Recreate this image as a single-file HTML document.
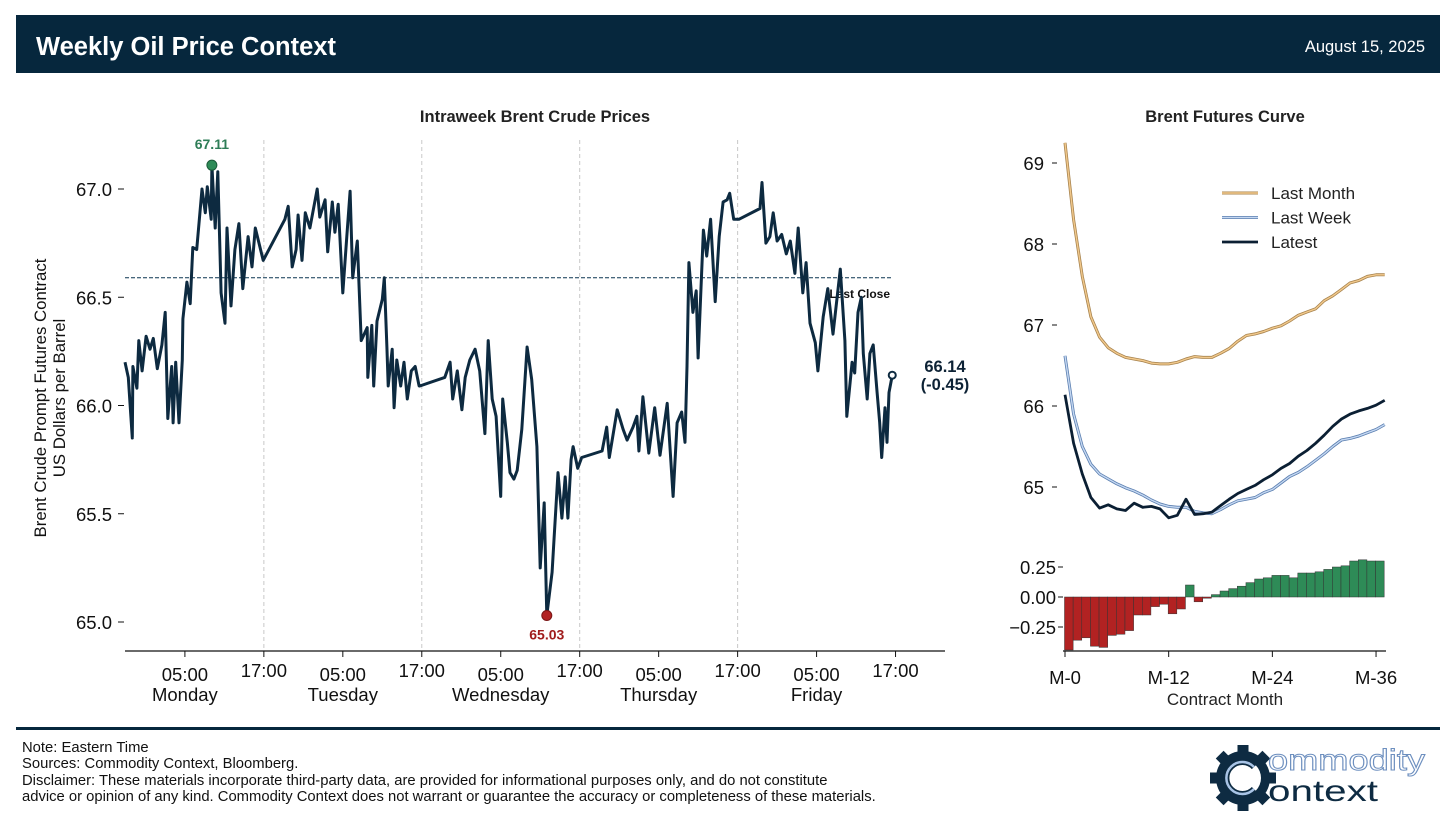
<!DOCTYPE html>
<html><head><meta charset="utf-8"><style>
html,body{margin:0;padding:0;background:#fff;}
body{width:1456px;height:831px;overflow:hidden;font-family:"Liberation Sans",Arial,sans-serif;}
svg text{font-family:"Liberation Sans",Arial,sans-serif;}
</style></head><body>
<svg id="root" width="1456" height="831" viewBox="0 0 1456 831" xmlns="http://www.w3.org/2000/svg">
<rect x="16" y="15" width="1424" height="58" fill="#06273d"/>
<text x="36" y="55" font-size="25.5" font-weight="bold" fill="#fff">Weekly Oil Price Context</text>
<text x="1425" y="52" font-size="16.5" fill="#fff" text-anchor="end">August 15, 2025</text>
<text x="535" y="122" font-size="16.5" font-weight="bold" fill="#222" text-anchor="middle">Intraweek Brent Crude Prices</text>
<text x="1225" y="122" font-size="16.5" font-weight="bold" fill="#222" text-anchor="middle">Brent Futures Curve</text>
<g transform="translate(53,398) rotate(-90)">
<text x="0" y="-7" font-size="16.8" fill="#111" text-anchor="middle">Brent Crude Prompt Futures Contract</text>
<text x="0" y="12" font-size="16.8" fill="#111" text-anchor="middle">US Dollars per Barrel</text>
</g>
<g id="left"></g>
<g id="right"></g>
<rect x="16" y="727" width="1424" height="3" fill="#06273d"/>
<g font-size="14.8" fill="#111">
<text x="22" y="752">Note: Eastern Time</text>
<text x="22" y="768">Sources: Commodity Context, Bloomberg.</text>
<text x="22" y="785">Disclaimer: These materials incorporate third-party data, are provided for informational purposes only, and do not constitute</text>
<text x="22" y="801">advice or opinion of any kind. Commodity Context does not warrant or guarantee the accuracy or completeness of these materials.</text>
</g>
<g>
<g transform="translate(1243,778)">
<g fill="#0e2b42">
<rect x="-5.5" y="-33" width="11" height="66"/><rect x="-5.5" y="-33" width="11" height="66" transform="rotate(45)"/>
<rect x="-5.5" y="-33" width="11" height="66" transform="rotate(90)"/><rect x="-5.5" y="-33" width="11" height="66" transform="rotate(135)"/>
<circle r="27"/></g>
<circle r="18" fill="#fff"/>
<path d="M11,-11 A16,16 0 1 0 11,11" fill="none" stroke="#0e2b42" stroke-width="6"/>
<path d="M11,-11 A16,16 0 1 0 11,11" fill="none" stroke="#a9c4e6" stroke-width="2.5"/>
</g>
<text x="1268" y="770" font-size="30" textLength="157" lengthAdjust="spacingAndGlyphs" fill="#fff" stroke="#6d8fbf" stroke-width="1">ommodity</text>
<text x="1268" y="801" font-size="30" textLength="110" lengthAdjust="spacingAndGlyphs" fill="#0e2b42">ontext</text>
</g>
</svg>
<script>
// ---------- Intraweek data (hours since Monday 00:00 ET, price) ----------
const weekHours = [-4.1,-3.6,-3.0,-2.9,-2.3,-2.0,-1.5,-0.9,-0.3,0.2,0.8,1.5,2.0,2.4,3.0,3.2,3.6,4.1,4.6,4.7,5.3,5.8,6.2,6.8,7.6,8.1,8.4,9.0,9.1,9.6,10.0,10.5,11.1,11.4,12.0,12.6,13.2,13.8,14.6,15.2,15.7,16.9,
20.2,20.7,21.3,21.9,22.2,22.8,23.3,24.0,25.1,25.5,26.3,26.7,27.4,27.8,28.3,29.0,29.6,30.1,30.5,31.2,31.8,32.7,32.8,33.4,33.7,34.2,35.0,35.3,35.7,35.9,36.5,36.8,37.2,37.8,38.3,38.8,39.4,40.0,40.6,40.7,
44.5,45.3,45.7,46.4,47.1,47.6,48.3,49.1,49.8,50.6,51.1,51.7,52.3,53.0,53.3,54.0,54.4,55.0,55.5,56.2,57.0,57.7,58.5,59.0,59.6,60.0,60.8,61.1,61.7,62.3,62.8,63.2,63.7,64.0,64.7,65.3,
68.4,69.1,69.5,70.7,71.6,72.2,73.1,73.7,74.0,74.6,75.5,76.4,77.2,78.3,79.2,79.8,80.5,81.0,81.3,81.6,82.2,82.7,83.0,83.8,84.3,84.9,85.6,86.2,86.8,87.4,87.8,88.4,89.2,
92.4,92.7,93.3,93.9,94.4,95.0,95.7,96.4,97.0,97.7,98.2,98.9,99.4,100.0,100.8,101.2,102.0,102.7,103.5,104.6,105.3,105.6,106.4,106.8,107.3,107.8,108.1,108.7,109.1,109.6,110.2,110.6,110.9,111.4,111.7,112.0,112.5];
const weekPrices = [66.20,66.13,65.85,66.18,66.08,66.30,66.16,66.32,66.26,66.31,66.17,66.28,66.43,65.94,66.18,65.92,66.20,65.92,66.21,66.40,66.57,66.47,66.73,66.72,67.00,66.89,67.01,66.86,67.11,66.82,67.08,66.52,66.38,66.82,66.46,66.72,66.84,66.54,66.78,66.64,66.82,66.67,
66.86,66.92,66.64,66.72,66.88,66.67,66.89,66.82,67.00,66.87,66.95,66.71,66.94,66.80,66.93,66.52,66.78,66.99,66.59,66.76,66.30,66.36,66.13,66.37,66.09,66.39,66.49,66.59,66.27,66.09,66.26,65.99,66.21,66.09,66.20,66.03,66.16,66.18,66.09,66.09,
66.13,66.20,66.03,66.16,65.98,66.13,66.21,66.26,66.16,65.87,66.30,66.03,65.95,65.58,66.03,65.83,65.69,65.66,65.70,65.89,66.27,66.12,65.81,65.25,65.55,65.03,65.23,65.38,65.69,65.48,65.67,65.48,65.75,65.81,65.71,65.76,
65.79,65.90,65.76,65.98,65.89,65.84,65.90,65.95,65.79,66.04,65.78,65.99,65.77,66.01,65.58,65.92,65.97,65.83,66.18,66.66,66.43,66.53,66.22,66.81,66.69,66.86,66.48,66.78,66.94,66.95,66.98,66.86,66.86,
66.91,67.03,66.75,66.78,66.89,66.76,66.79,66.70,66.76,66.61,66.82,66.52,66.66,66.38,66.29,66.16,66.41,66.54,66.33,66.63,66.30,65.95,66.20,66.15,66.43,66.50,66.24,66.03,66.24,66.28,66.06,65.92,65.76,65.99,65.83,66.06,66.14];
const prevClose = [66.59];
const yTicksLeft = [65.0,65.5,66.0,66.5,67.0];
const xTickHours = [5,17,29,41,53,65,77,89,101,113];
const xTickLabels = ["05:00","17:00","05:00","17:00","05:00","17:00","05:00","17:00","05:00","17:00"];
const dayNames = ["Monday","Tuesday","Wednesday","Thursday","Friday"];
const sessionBreakHours = [17,41,65,89];

// ---------- Futures curve data ----------
const curveMonths = [0,1,2,3,4,5,6,7,8,9,10,11,12,13,14,15,16,17,18,19,20,21,22,23,24,25,26,27,28,29,30,31,32,33,34,35,36,37];
const lastMonth = [69.25,68.3,67.6,67.1,66.85,66.72,66.65,66.6,66.58,66.56,66.53,66.52,66.52,66.54,66.58,66.61,66.6,66.6,66.65,66.71,66.8,66.87,66.89,66.92,66.96,66.99,67.05,67.12,67.16,67.2,67.3,67.36,67.44,67.52,67.55,67.6,67.62,67.62];
const lastWeek = [66.62,65.9,65.5,65.28,65.16,65.1,65.04,64.99,64.95,64.9,64.84,64.79,64.76,64.75,64.75,64.7,64.68,64.67,64.72,64.78,64.83,64.85,64.87,64.93,64.97,65.05,65.13,65.18,65.25,65.33,65.41,65.5,65.58,65.6,65.63,65.67,65.71,65.77];
const latest = [66.14,65.54,65.16,64.87,64.74,64.78,64.73,64.71,64.8,64.75,64.76,64.73,64.62,64.65,64.85,64.66,64.67,64.69,64.77,64.85,64.92,64.97,65.02,65.09,65.15,65.23,65.29,65.38,65.45,65.54,65.64,65.75,65.84,65.9,65.94,65.97,66.01,66.07];
const weeklyChange = [-0.48,-0.36,-0.34,-0.41,-0.42,-0.32,-0.31,-0.28,-0.15,-0.15,-0.08,-0.06,-0.14,-0.1,0.1,-0.04,-0.01,0.02,0.05,0.07,0.09,0.12,0.15,0.16,0.18,0.18,0.16,0.2,0.2,0.21,0.23,0.25,0.26,0.3,0.31,0.3,0.3];
const curveYTicks = [65,66,67,68,69];
const barYTicks = [-0.25,0,0.25];
const barYLabels = ["\u22120.25","0.00","0.25"];
const monthTicks = [0,12,24,36];

const NS = "http://www.w3.org/2000/svg";
function mk(parent, tag, attrs, text){
  const e = document.createElementNS(NS, tag);
  for (const k in attrs) e.setAttribute(k, attrs[k]);
  if (text !== undefined) e.textContent = text;
  parent.appendChild(e);
  return e;
}

// ---------- Left chart ----------
const L = document.getElementById('left');


const lx = h => 152 + h * 6.58;
const ly = p => 189 + (67 - p) * 216.5;

sessionBreakHours.forEach(h => {
  const g = mk(L, 'line', {x1: lx(h), x2: lx(h), y1: 140, y2: 650, stroke: '#c8c8c8', 'stroke-width': 1, 'stroke-dasharray': '4,3'});
  
  
});
const ax = mk(L, 'line', {x1: 125, x2: 945, y1: 651, y2: 651, stroke: '#111', 'stroke-width': 1.2});


yTicksLeft.forEach(v => {
  const t = mk(L, 'line', {x1: 118, x2: 124, y1: ly(v), y2: ly(v), stroke: '#111', 'stroke-width': 1});
  
  
  const tl = mk(L, 'text', {x: 112, y: ly(v) + 7, 'font-size': 18.5, 'text-anchor': 'end', fill: '#111'}, v.toFixed(1));
  
  
});
xTickHours.forEach((h, i) => {
  const t = mk(L, 'line', {x1: lx(h), x2: lx(h), y1: 651, y2: 657, stroke: '#111', 'stroke-width': 1});
  
  
  const isFive = i % 2 === 0;
  const tl = mk(L, 'text', {x: lx(h), y: isFive ? 681 : 677, 'font-size': 18.5, 'text-anchor': 'middle', fill: '#111'}, xTickLabels[i]);
  
  
  if (isFive) {
    const d = mk(L, 'text', {x: lx(h), y: 701, 'font-size': 18.5, 'text-anchor': 'middle', fill: '#111'}, dayNames[i / 2]);
    
    
  }
});
const pc = mk(L, 'line', {x1: 125, x2: lx(weekHours[weekHours.length - 1]), y1: ly(prevClose[0]), y2: ly(prevClose[0]), stroke: '#0b3550', 'stroke-width': 1, 'stroke-dasharray': '4,2'});


const pcl = mk(L, 'text', {x: 890, y: ly(prevClose[0]) + 20, 'font-size': 12, 'font-weight': 'bold', 'text-anchor': 'end', fill: '#111'}, 'Last Close');


let d = '';
weekHours.forEach((h, i) => { d += (i ? 'L' : 'M') + lx(h).toFixed(1) + ',' + ly(weekPrices[i]).toFixed(1); });
const pl = mk(L, 'path', {d: d, fill: 'none', stroke: '#0d2a40', 'stroke-width': 3, 'stroke-linejoin': 'round'});


let iMax = 0, iMin = 0;
weekPrices.forEach((p, i) => { if (p > weekPrices[iMax]) iMax = i; if (p < weekPrices[iMin]) iMin = i; });
const mxc = mk(L, 'circle', {cx: lx(weekHours[iMax]), cy: ly(weekPrices[iMax]), r: 5, fill: '#2e8b57', stroke: '#1a5a38', 'stroke-width': 1});


const mxt = mk(L, 'text', {x: lx(weekHours[iMax]), y: ly(weekPrices[iMax]) - 16, 'font-size': 14, 'font-weight': 'bold', 'text-anchor': 'middle', fill: '#2e7d57'}, weekPrices[iMax].toFixed(2));


const mnc = mk(L, 'circle', {cx: lx(weekHours[iMin]), cy: ly(weekPrices[iMin]), r: 5, fill: '#b22222', stroke: '#7a1515', 'stroke-width': 1});


const mnt = mk(L, 'text', {x: lx(weekHours[iMin]), y: ly(weekPrices[iMin]) + 24, 'font-size': 14, 'font-weight': 'bold', 'text-anchor': 'middle', fill: '#a01c1c'}, weekPrices[iMin].toFixed(2));


const lastP = weekPrices[weekPrices.length - 1];
const lc = mk(L, 'circle', {cx: lx(weekHours[weekHours.length - 1]), cy: ly(lastP), r: 3.5, fill: '#fff', stroke: '#0d2a40', 'stroke-width': 2});


const lt1 = mk(L, 'text', {x: 945, y: ly(lastP) - 3, 'font-size': 16.5, 'font-weight': 'bold', 'text-anchor': 'middle', fill: '#0d2235'}, lastP.toFixed(2));


const lt2 = mk(L, 'text', {x: 945, y: ly(lastP) + 15, 'font-size': 16.5, 'font-weight': 'bold', 'text-anchor': 'middle', fill: '#0d2235'}, '(' + (lastP - prevClose[0]).toFixed(2) + ')');



// ---------- Right chart ----------
const R = document.getElementById('right');


const rx = m => 1065 + m * 8.64;
const ry = v => 163 + (69 - v) * 81;
const by = v => 597 - v * 120;
curveYTicks.forEach(v => {
  const t = mk(R, 'line', {x1: 1052, x2: 1057, y1: ry(v), y2: ry(v), stroke: '#111'});
  
  
  const tl = mk(R, 'text', {x: 1044, y: ry(v) + 7, 'font-size': 18.5, 'text-anchor': 'end', fill: '#111'}, String(v));
  
  
});
function series(arr, outer, inner, wo, wi, name){
  let p = '';
  arr.forEach((v, i) => { p += (i ? 'L' : 'M') + rx(curveMonths[i]).toFixed(1) + ',' + ry(v).toFixed(1); });
  const o = mk(R, 'path', {d: p, fill: 'none', stroke: outer, 'stroke-width': wo, 'stroke-linejoin': 'round'});
  
  
  if (inner) {
    const n = mk(R, 'path', {d: p, fill: 'none', stroke: inner, 'stroke-width': wi, 'stroke-linejoin': 'round'});
    
    
  }
}
series(lastMonth, '#a8844f', '#f2c98c', 3, 1.4, 'last-month-curve');
series(lastWeek, '#5b7fb0', '#c5d8f2', 3, 1.4, 'last-week-curve');
series(latest, '#0b1f33', null, 2.8, 0, 'latest-curve');
// legend
[['Last Month', '#a8844f', '#f2c98c'], ['Last Week', '#5b7fb0', '#c5d8f2'], ['Latest', '#0b1f33', null]].forEach((e, i) => {
  const y = 193 + i * 24.5;
  const g = mk(R, 'g', {});
  
  
  mk(g, 'line', {x1: 1222, x2: 1258, y1: y, y2: y, stroke: e[1], 'stroke-width': e[2] ? 3 : 2.8});
  if (e[2]) mk(g, 'line', {x1: 1222, x2: 1258, y1: y, y2: y, stroke: e[2], 'stroke-width': 1.4});
  mk(g, 'text', {x: 1271, y: y + 6, 'font-size': 17, fill: '#222'}, e[0]);
});
// bars
weeklyChange.forEach((v, i) => {
  const top = by(Math.max(v, 0)), bot = Math.min(by(Math.min(v, 0)), 650);
  const b = mk(R, 'rect', {x: rx(curveMonths[i]) - 0.5, y: top, width: 8.64, height: Math.max(bot - top, 0.5), fill: v >= 0 ? '#2e8b57' : '#b22222', stroke: '#333', 'stroke-width': 0.5});
  
  
});
barYTicks.forEach((v, i) => {
  const t = mk(R, 'line', {x1: 1058, x2: 1063, y1: by(v), y2: by(v), stroke: '#111'});
  
  
  const tl = mk(R, 'text', {x: 1056, y: by(v) + 7, 'font-size': 18.5, 'text-anchor': 'end', fill: '#111'}, barYLabels[i]);
  
  
});
const rax = mk(R, 'line', {x1: 1063, x2: 1386, y1: 651, y2: 651, stroke: '#111', 'stroke-width': 1.2});


monthTicks.forEach(m => {
  const t = mk(R, 'line', {x1: rx(m), x2: rx(m), y1: 651, y2: 657, stroke: '#111'});
  
  
  const tl = mk(R, 'text', {x: rx(m), y: 684, 'font-size': 18.5, 'text-anchor': 'middle', fill: '#111'}, 'M-' + m);
  
  
});
const xt = mk(R, 'text', {x: 1225, y: 705, 'font-size': 17, 'text-anchor': 'middle', fill: '#222'}, 'Contract Month');


</script>
</body></html>
